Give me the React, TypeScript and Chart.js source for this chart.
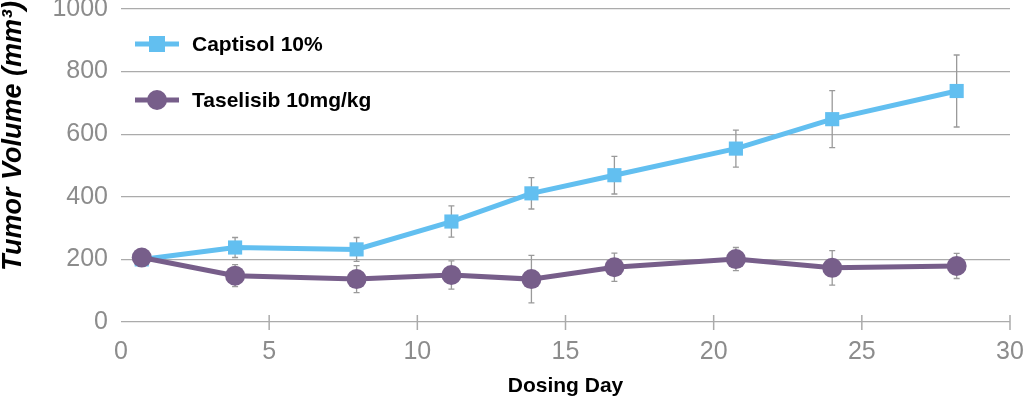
import React, { useEffect, useRef } from "react";
import { Chart, registerables } from "chart.js";

Chart.register(...registerables);

const days = [0.7, 3.85, 7.95, 11.15, 13.85, 16.65, 20.75, 24.0, 28.2];
const captisol = [200, 238, 232, 321, 411, 469, 554, 648, 738];
const captisolErr = [8, 32, 38, 50, 50, 60, 59, 91, 115];
const taselisib = [206, 148, 137, 150, 137, 175, 201, 173, 179];
const taselisibErr = [20, 35, 43, 45, 76, 45, 37, 55, 40];
const seriesNames = ["Captisol 10%", "Taselisib 10mg/kg"];
const xTickMarks = [5, 10, 15, 20, 25, 30];
const yTitle = "Tumor Volume (mm³)";
const xTitle = "Dosing Day";

const BLUE = "#62BFF0";
const PURPLE = "#775E8A";
const GRID = "#ababab";
const TICK = "#8c8c8c";
const FONT = "'Liberation Sans', Arial, sans-serif";

const extrasPlugin = {
  id: "extras",
  beforeDatasetsDraw(chart: any) {
    const ctx = chart.ctx;
    const xs = chart.scales.x;
    const ys = chart.scales.y;
    ctx.save();
    ctx.strokeStyle = "#9a9a9a";
    ctx.lineWidth = 1.3;
    const drawErr = (vals: number[], errs: number[]) => {
      vals.forEach((v, i) => {
        const x = xs.getPixelForValue(days[i]);
        const yt = ys.getPixelForValue(v + errs[i]);
        const yb = ys.getPixelForValue(v - errs[i]);
        ctx.beginPath();
        ctx.moveTo(x, yt);
        ctx.lineTo(x, yb);
        ctx.moveTo(x - 3, yt);
        ctx.lineTo(x + 3, yt);
        ctx.moveTo(x - 3, yb);
        ctx.lineTo(x + 3, yb);
        ctx.stroke();
      });
    };
    drawErr(captisol, captisolErr);
    drawErr(taselisib, taselisibErr);
    ctx.restore();
  },
  afterDraw(chart: any) {
    const ctx = chart.ctx;
    const xs = chart.scales.x;
    const area = chart.chartArea;
    ctx.save();
    // x tick marks
    ctx.strokeStyle = GRID;
    ctx.lineWidth = 1.5;
    xTickMarks.forEach((t) => {
      const x = xs.getPixelForValue(t);
      ctx.beginPath();
      ctx.moveTo(x, area.bottom - 7);
      ctx.lineTo(x, area.bottom + 8);
      ctx.stroke();
    });
    // y title
    ctx.save();
    ctx.translate(14, 136);
    ctx.rotate(-Math.PI / 2);
    ctx.fillStyle = "#000";
    ctx.font = `italic bold 27px ${FONT}`;
    ctx.textAlign = "center";
    ctx.textBaseline = "middle";
    ctx.fillText(yTitle, 0, 0);
    ctx.restore();
    // legend
    const items = [
      { name: seriesNames[0], color: BLUE, y: 44, shape: "rect" },
      { name: seriesNames[1], color: PURPLE, y: 100, shape: "circle" },
    ];
    items.forEach((it) => {
      ctx.strokeStyle = it.color;
      ctx.fillStyle = it.color;
      ctx.lineWidth = 5;
      ctx.beginPath();
      ctx.moveTo(135, it.y);
      ctx.lineTo(179, it.y);
      ctx.stroke();
      if (it.shape === "rect") {
        ctx.fillRect(157 - 8, it.y - 8, 16, 16);
      } else {
        ctx.beginPath();
        ctx.arc(157, it.y, 10, 0, Math.PI * 2);
        ctx.fill();
      }
      ctx.fillStyle = "#000";
      ctx.font = `bold 21px ${FONT}`;
      ctx.textAlign = "left";
      ctx.textBaseline = "middle";
      ctx.fillText(it.name, 192, it.y + 1);
    });
    ctx.restore();
  },
};

export default function App() {
  const ref = useRef<HTMLCanvasElement>(null);
  useEffect(() => {
    document.body.style.margin = "0";
    const canvas = ref.current!;
    const chart = new Chart(canvas, {
      type: "line",
      data: {
        datasets: [
          {
            label: seriesNames[0],
            data: days.map((d, i) => ({ x: d, y: captisol[i] })),
            borderColor: BLUE,
            backgroundColor: BLUE,
            borderWidth: 5,
            pointStyle: "rect",
            pointRadius: 10,
            pointBorderWidth: 0,
            order: 2,
          },
          {
            label: seriesNames[1],
            data: days.map((d, i) => ({ x: d, y: taselisib[i] })),
            borderColor: PURPLE,
            backgroundColor: PURPLE,
            borderWidth: 5,
            pointStyle: "circle",
            pointRadius: 10,
            pointBorderWidth: 0,
            order: 1,
          },
        ],
      },
      options: {
        animation: false,
        responsive: false,
        layout: { autoPadding: false, padding: { top: 9, right: 14, bottom: 0, left: 0 } },
        plugins: { legend: { display: false }, tooltip: { enabled: false } },
        scales: {
          x: {
            type: "linear",
            min: 0,
            max: 30,
            grid: { display: false, drawTicks: false },
            border: { display: false },
            ticks: {
              stepSize: 5,
              padding: 15,
              color: TICK,
              font: { family: FONT, size: 25 },
              maxRotation: 0,
              callback: (v: any) => String(v),
            },
            title: {
              display: true,
              text: xTitle,
              color: "#000",
              font: { family: FONT, size: 21, weight: "bold" },
              padding: { top: 0, bottom: 0 },
            },
            afterFit: (s: any) => {
              s.height = 77;
              s.paddingLeft = 0;
              s.paddingRight = 0;
              s.paddingTop = 0;
              s.paddingBottom = 0;
            },
          },
          y: {
            min: 0,
            max: 1000,
            grid: { color: GRID, lineWidth: 1.3, drawTicks: false },
            border: { display: false },
            ticks: {
              stepSize: 200,
              padding: 13,
              color: TICK,
              font: { family: FONT, size: 25 },
              callback: (v: any) => String(v),
            },
            afterFit: (s: any) => {
              s.width = 121;
              s.paddingLeft = 0;
              s.paddingRight = 0;
              s.paddingTop = 0;
              s.paddingBottom = 0;
            },
          },
        },
      },
      plugins: [extrasPlugin],
    } as any);
    return () => chart.destroy();
  }, []);
  return (
    <div style={{ width: 1024, height: 399 }}>
      <canvas ref={ref} width={1024} height={399} />
    </div>
  );
}
